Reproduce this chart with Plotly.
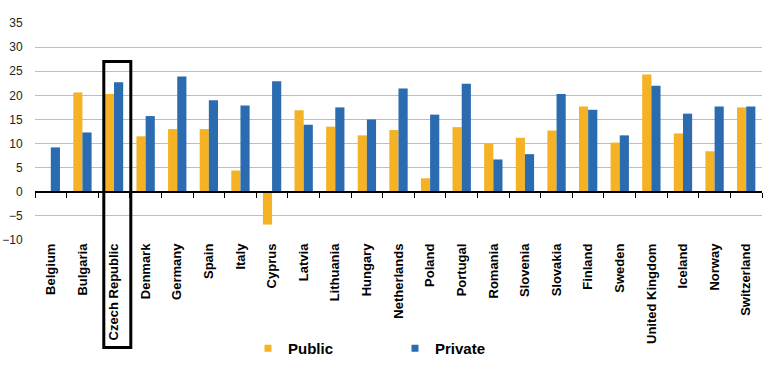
import plotly.graph_objects as go

countries = ["Belgium", "Bulgaria", "Czech Republic", "Denmark", "Germany", "Spain", "Italy",
             "Cyprus", "Latvia", "Lithuania", "Hungary", "Netherlands", "Poland", "Portugal",
             "Romania", "Slovenia", "Slovakia", "Finland", "Sweden", "United Kingdom",
             "Iceland", "Norway", "Switzerland"]
public = [0, 20.6, 20.3, 11.5, 13.0, 13.0, 4.4, -6.8, 16.9, 13.5, 11.7, 12.8, 2.8, 13.4,
          10.0, 11.2, 12.7, 17.7, 10.2, 24.3, 12.1, 8.4, 17.5]
private = [9.2, 12.3, 22.7, 15.7, 23.9, 19.0, 17.9, 22.9, 13.9, 17.5, 15.0, 21.4, 16.0, 22.4,
           6.7, 7.8, 20.3, 17.0, 11.7, 22.0, 16.2, 17.7, 17.7]
y_ticks = [-10, -5, 0, 5, 10, 15, 20, 25, 30, 35]

GOLD = "#F4B224"
BLUE = "#2B6BB0"
FONT = "Arial, Liberation Sans, sans-serif"

fig = go.Figure()
fig.add_trace(go.Bar(x=countries, y=public, name="Public", marker_color=GOLD,
                     marker_line_width=0, showlegend=False))
fig.add_trace(go.Bar(x=countries, y=private, name="Private", marker_color=BLUE,
                     marker_line_width=0, showlegend=False))
# legend entries with small square markers
fig.add_trace(go.Scatter(x=[None], y=[None], mode="markers", name="Public",
                         marker=dict(symbol="square", size=7, color=GOLD)))
fig.add_trace(go.Scatter(x=[None], y=[None], mode="markers", name="Private",
                         marker=dict(symbol="square", size=7, color=BLUE)))
# invisible trace to carry the zero-line category axis
fig.add_trace(go.Scatter(x=countries, y=[0] * len(countries), xaxis="x2", mode="markers",
                         marker=dict(opacity=0), showlegend=False, hoverinfo="skip"))

W, H = 769, 389
L, R, T = 35, 7, 23
B = H - 240
pw, ph = W - L - R, H - T - B


def px(xs):
    return (xs - L) / pw


def py(ys):
    return (H - B - ys) / ph


fig.update_layout(
    width=W, height=H,
    margin=dict(l=L, r=R, t=T, b=B, pad=0, autoexpand=False),
    paper_bgcolor="white", plot_bgcolor="white",
    barmode="group", bargap=0.42, bargroupgap=0,
    font=dict(family=FONT, color="black"),
    xaxis=dict(type="category", categoryorder="array", categoryarray=countries,
               showgrid=False, showline=False, ticks="", tickangle=-90, automargin=False,
               tickfont=dict(size=13, weight="bold", color="black"), zeroline=False,
               range=[-0.5, len(countries) - 0.5]),
    xaxis2=dict(type="category", categoryorder="array", categoryarray=countries,
                overlaying="x", anchor="free", position=10 / 45, side="bottom",
                showline=True, linecolor="black", linewidth=1.5, ticks="outside",
                tickson="boundaries", ticklen=5, tickcolor="black", tickwidth=1,
                showticklabels=False, showgrid=False, zeroline=False, automargin=False,
                range=[-0.5, len(countries) - 0.5]),
    yaxis=dict(range=[-10, 35], tickvals=y_ticks, showgrid=True, gridcolor="#BEBEBE",
               gridwidth=1, zeroline=False, showline=False, ticks="outside", ticklen=9,
               tickcolor="rgba(0,0,0,0)", tickfont=dict(size=12, color="#222222"),
               automargin=False),
    legend=dict(orientation="h", x=px(248), y=py(332), xanchor="left",
                yanchor="top", font=dict(size=15, weight="bold", color="black"),
                entrywidth=102, entrywidthmode="pixels", itemwidth=30,
                bgcolor="rgba(0,0,0,0)"),
)

# highlight box around Czech Republic
fig.add_shape(type="rect", xref="paper", yref="paper",
              x0=px(103.8), x1=px(130.8), y0=py(347.5), y1=py(61.5),
              line=dict(color="black", width=3), fillcolor="rgba(0,0,0,0)", layer="above")

fig.write_html("out.html", config={"displayModeBar": False},
               post_script="document.body.style.margin='0';document.body.style.overflow='hidden';")
